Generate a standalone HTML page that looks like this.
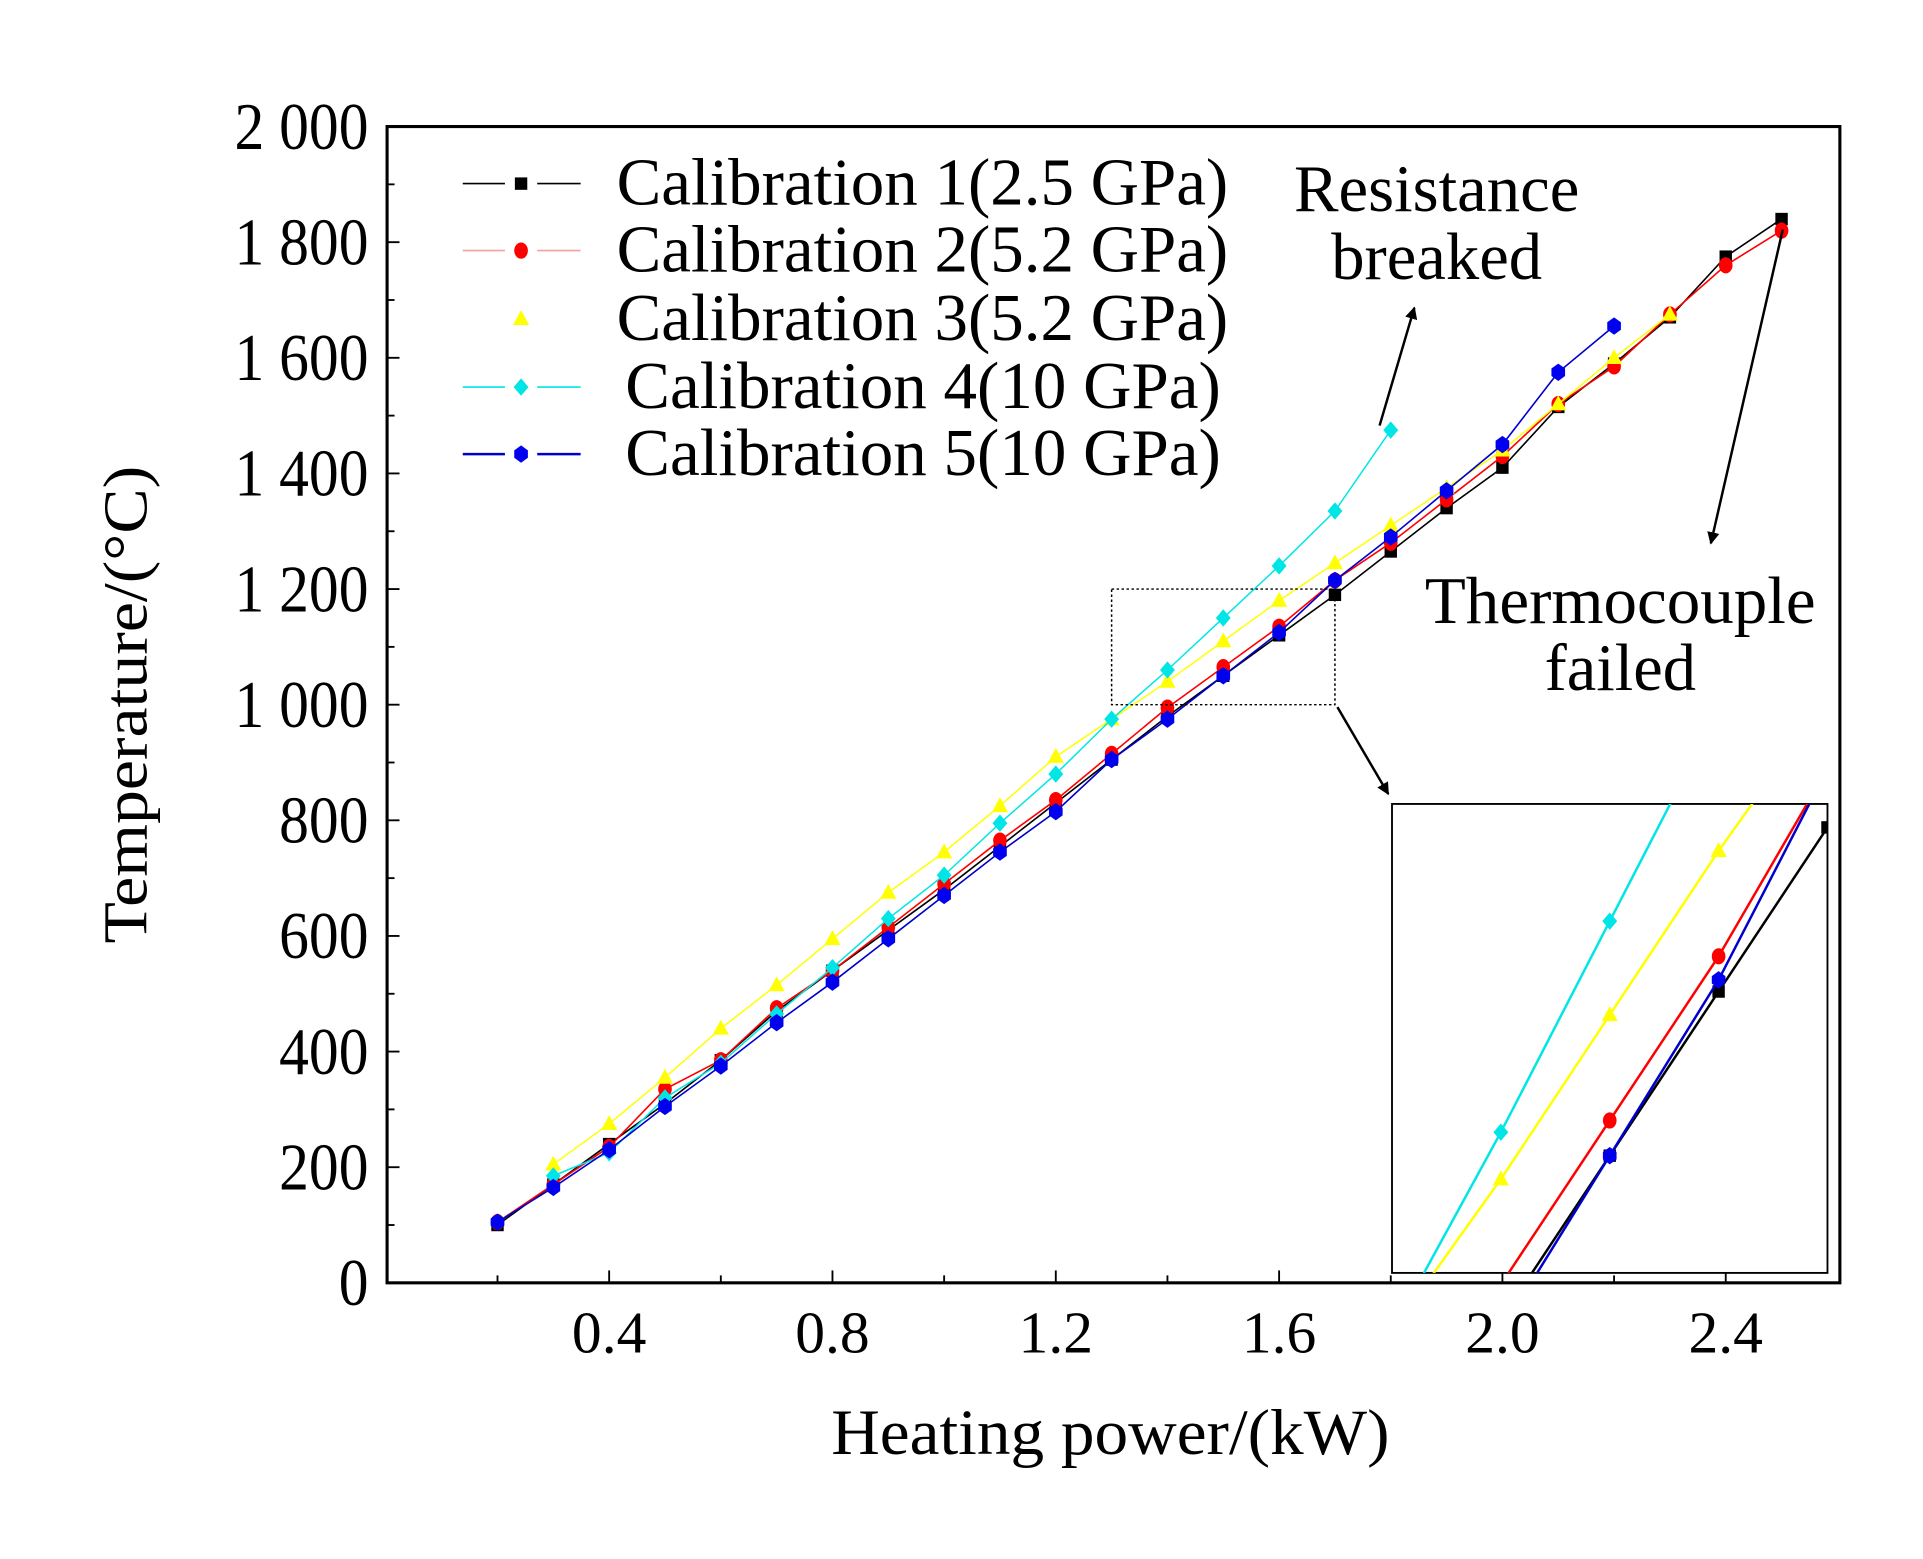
<!DOCTYPE html>
<html><head><meta charset="utf-8"><style>
html,body{margin:0;padding:0;background:#fff;width:1923px;height:1559px;overflow:hidden;}
svg{display:block;position:absolute;left:0;top:0;}
text{font-family:"Liberation Serif",serif;fill:#000;}
</style></head><body>
<svg id="chart" width="1923" height="1559" viewBox="0 0 1550 1256.6" preserveAspectRatio="none" xmlns="http://www.w3.org/2000/svg">
<defs><clipPath id="insetClip"><rect x="1122" y="648" width="351" height="378"/></clipPath>
<marker id="ah" markerWidth="10" markerHeight="10" refX="9" refY="5" orient="auto" markerUnits="userSpaceOnUse"><path d="M0,0 L10,5 L0,10 z" fill="#000"/></marker></defs>
</svg>
<script>
const xs1=[0.2,0.3,0.4,0.5,0.6,0.7,0.8,0.9,1.0,1.1,1.2,1.3,1.4,1.5,1.6,1.7,1.8,1.9,2.0,2.1,2.2,2.3,2.4,2.5];
const cal1=[100,170,240,310,385,470,540,610,680,755,830,905,980,1050,1120,1190,1265,1340,1410,1515,1590,1670,1775,1840];
const cal2=[105,170,235,335,385,475,540,615,690,765,835,915,995,1065,1135,1215,1280,1355,1430,1520,1585,1675,1760,1820];
const xs3=[0.3,0.4,0.5,0.6,0.7,0.8,0.9,1.0,1.1,1.2,1.3,1.4,1.5,1.6,1.7,1.8,1.9,2.0,2.1,2.2,2.3];
const cal3=[205,275,355,440,515,595,675,745,825,910,975,1040,1110,1180,1245,1310,1375,1440,1520,1600,1675];
const xs4=[0.3,0.4,0.5,0.6,0.7,0.8,0.9,1.0,1.1,1.2,1.3,1.4,1.5,1.6,1.7,1.8];
const cal4=[185,225,320,380,465,545,630,705,795,880,975,1060,1150,1240,1335,1475];
const xs5=[0.2,0.3,0.4,0.5,0.6,0.7,0.8,0.9,1.0,1.1,1.2,1.3,1.4,1.5,1.6,1.7,1.8,1.9,2.0,2.1,2.2];
const cal5=[105,165,230,305,375,450,520,595,670,745,815,905,975,1050,1125,1215,1290,1370,1450,1575,1655];
const yTicks=[0,200,400,600,800,1000,1200,1400,1600,1800,2000];
const yTickLabels=["0","200","400","600","800","1 000","1 200","1 400","1 600","1 800","2 000"];
const xTicks=[0.4,0.8,1.2,1.6,2.0,2.4];
const xTickLabels=["0.4","0.8","1.2","1.6","2.0","2.4"];
const seriesNames=["Calibration 1(2.5 GPa)","Calibration 2(5.2 GPa)","Calibration 3(5.2 GPa)","Calibration 4(10 GPa)","Calibration 5(10 GPa)"];

const NS="http://www.w3.org/2000/svg";
const svg=document.getElementById('chart');
const L=312,R=1483,T=102,B=1034;
const X=v=>311+v*450;
const Y=v=>B-(v/2000)*(B-T);
const IX=v=>1122+(v-1.3)/0.4*351;
const IY=v=>1026-(v-1000)/200*378;
function mk(tag,a,parent){const e=document.createElementNS(NS,tag);for(const k in a)e.setAttribute(k,a[k]);(parent||svg).appendChild(e);return e;}

let fr=mk('rect',{x:L,y:T,width:R-L,height:B-T,fill:'none',stroke:'#000','stroke-width':2.5});



for(let v=0;v<=2000;v+=100){
  const major=v%200===0;
  const t=mk('line',{x1:L,x2:L+(major?10:6),y1:Y(v),y2:Y(v),stroke:'#000','stroke-width':1.5});
  
  
}
yTicks.forEach((v,i)=>{
  const t=mk('text',{x:297,y:Y(v)+16,'text-anchor':'end','font-size':48,transform:`translate(0,${Y(v)}) scale(1,1.12) translate(0,${-Y(v)})`});
  t.textContent=yTickLabels[i];
  
  
});
for(let k=1;k<=12;k++){
  const v=k*0.2, major=k%2===0;
  const t=mk('line',{x1:X(v),x2:X(v),y1:B,y2:B-(major?10:6),stroke:'#000','stroke-width':1.5});
  
  
}
xTicks.forEach((v,i)=>{
  const t=mk('text',{x:X(v),y:1090,'text-anchor':'middle','font-size':48});
  t.textContent=xTickLabels[i];
  
  
});
let yt=mk('text',{x:0,y:0,'text-anchor':'middle','font-size':50,transform:'translate(118,568) rotate(-90)',textLength:385,lengthAdjust:'spacingAndGlyphs'});
yt.textContent='Temperature/(°C)';


let xt=mk('text',{x:895,y:1172,'text-anchor':'middle','font-size':52,textLength:450,lengthAdjust:'spacingAndGlyphs'});
xt.textContent='Heating power/(kW)';



function marker(kind,cx,cy,color,g){
  let e;
  if(kind==='sq') e=mk('rect',{x:cx-5,y:cy-5,width:10,height:10,fill:color},g);
  else if(kind==='ci') e=mk('ellipse',{cx:cx,cy:cy,rx:5.5,ry:6.5,fill:color},g);
  else if(kind==='tr') e=mk('path',{d:`M${cx},${cy-7} L${cx+6.5},${cy+5} L${cx-6.5},${cy+5} z`,fill:color},g);
  else if(kind==='di') e=mk('path',{d:`M${cx},${cy-7} L${cx+6},${cy} L${cx},${cy+7} L${cx-6},${cy} z`,fill:color},g);
  else e=mk('path',{d:`M${cx},${cy-7} L${cx+5.5},${cy-3} L${cx+5.5},${cy+3} L${cx},${cy+7} L${cx-5.5},${cy+3} L${cx-5.5},${cy-3} z`,fill:color},g);
  return e;
}
const series=[
 {xs:xs1,ys:cal1,line:'#000',mc:'#000',m:'sq',w:1.3},
 {xs:xs1,ys:cal2,line:'#ff0000',mc:'#ff0000',m:'ci',w:1.3},
 {xs:xs3,ys:cal3,line:'#ffff00',mc:'#ffff00',m:'tr',w:1.2},
 {xs:xs4,ys:cal4,line:'#00e5e5',mc:'#00e5e5',m:'di',w:1.2},
 {xs:xs5,ys:cal5,line:'#0000cc',mc:'#0000ee',m:'hx',w:1.3}
];
series.forEach((s,si)=>{
  const g=mk('g',{});
  
  
  const p=mk('polyline',{points:s.xs.map((x,i)=>X(x)+','+Y(s.ys[i])).join(' '),fill:'none',stroke:s.line,'stroke-width':s.w},g);
  
  
  s.xs.forEach((x,i)=>{
    const e=marker(s.m,X(x),Y(s.ys[i]),s.mc,g);
    
    
  });
});

let zr=mk('rect',{x:X(1.3),y:Y(1200),width:X(1.7)-X(1.3),height:Y(1000)-Y(1200),fill:'none',stroke:'#000','stroke-width':1.2,'stroke-dasharray':'2,2'});


let ib=mk('rect',{x:1122,y:648,width:351,height:378,fill:'#fff',stroke:'#000','stroke-width':1.5});


const ig=mk('g',{'clip-path':'url(#insetClip)'});


series.forEach((s,si)=>{
  const p=mk('polyline',{points:s.xs.map((x,i)=>IX(x)+','+IY(s.ys[i])).join(' '),fill:'none',stroke:s.line,'stroke-width':2},ig);
  
  
  s.xs.forEach((x,i)=>{
    if(x<1.25||x>1.75)return;
    const e=marker(s.m,IX(x),IY(s.ys[i]),s.mc,ig);
    
    
  });
});
let za=mk('line',{x1:1078,y1:570,x2:1119,y2:640,stroke:'#000','stroke-width':2,'marker-end':'url(#ah)'});



const legY=[148,202,257,312,366];
const legX=[497,497,497,504,504];
const legW=[493,493,493,480,480];
series.forEach((s,si)=>{
  const g=mk('g',{});
  
  
  const y=legY[si];
  if(si!==2){
    mk('line',{x1:373,x2:407,y1:y,y2:y,stroke:si===1?'#f4a0a0':s.line,'stroke-width':si===4?2:1.3},g);
    mk('line',{x1:433,x2:468,y1:y,y2:y,stroke:si===1?'#f4a0a0':s.line,'stroke-width':si===4?2:1.3},g);
  }
  marker(s.m,420,y,s.mc,g);
  const t=mk('text',{x:legX[si],y:y+17,'font-size':54,textLength:legW[si],lengthAdjust:'spacingAndGlyphs'},g);
  t.textContent=seriesNames[si];
});

function txt(s,x,y,name,len){const t=mk('text',{x:x,y:y,'text-anchor':'middle','font-size':54,textLength:len,lengthAdjust:'spacingAndGlyphs'});t.textContent=s;}
txt('Resistance',1158,170,'annotation-resistance',230);
txt('breaked',1158,225,'annotation-breaked',170);
txt('Thermocouple',1306,502,'annotation-thermocouple',315);
txt('failed',1306,556,'annotation-failed',122);
let a1=mk('line',{x1:1112,y1:343,x2:1140,y2:248,stroke:'#000','stroke-width':2,'marker-end':'url(#ah)'});


let a2=mk('line',{x1:1437,y1:185,x2:1379,y2:438,stroke:'#000','stroke-width':2,'marker-end':'url(#ah)'});


</script>
</body></html>
